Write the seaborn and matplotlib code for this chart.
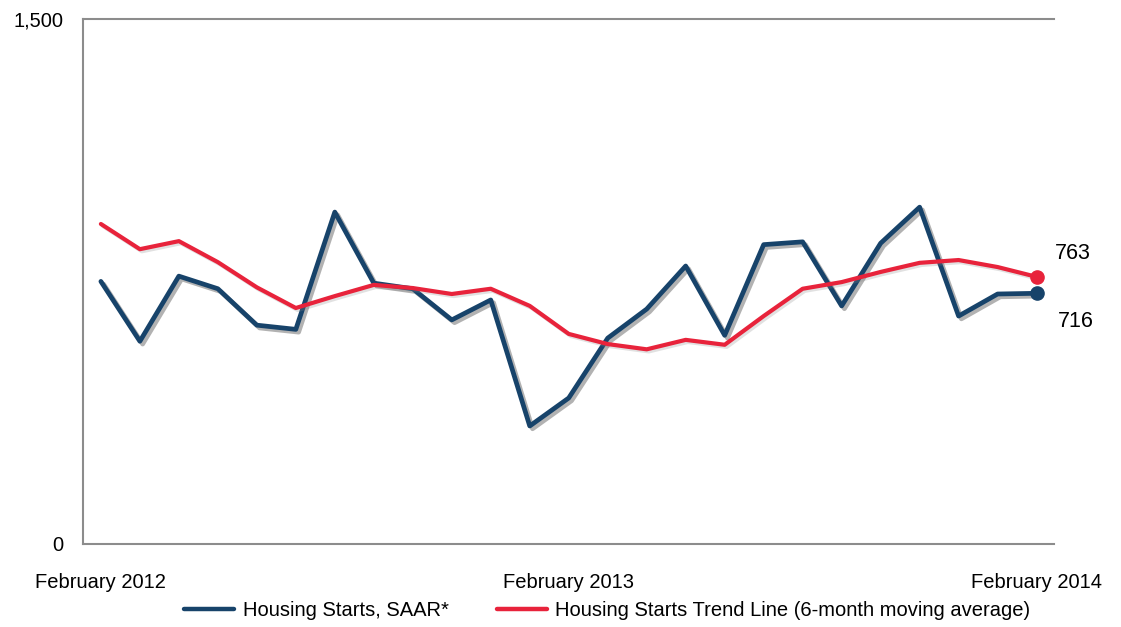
import pandas as pd
import matplotlib.pyplot as plt
import matplotlib.patheffects as pe
import seaborn as sns
import numpy as np

sns.set_style("white")
plt.rcParams['font.family'] = ['Liberation Sans', 'DejaVu Sans']
plt.rcParams['text.color'] = 'black'
plt.rcParams['xtick.color'] = 'black'
plt.rcParams['ytick.color'] = 'black'

# monthly housing starts, thousands (SAAR), Feb 2012 - Feb 2014
months = pd.date_range('2012-02-01', periods=25, freq='MS').strftime('%B %Y').tolist()
starts = [750, 579, 765, 729, 625, 613, 948, 745, 729, 640, 697, 337, 417,
          588, 671, 794, 596, 855, 863, 680, 859, 962, 651, 714, 716]
trend = [914, 842, 865, 805, 733, 674, 708, 740, 731, 714, 729, 680, 600,
         571, 556, 583, 569, 651, 729, 748, 777, 803, 811, 791, 763]
tick_months = ['February 2012', 'February 2013', 'February 2014']

blue = '#17436a'
red = '#e8233b'

df = pd.DataFrame({'month': months, 'idx': np.arange(len(months)),
                   'starts': starts, 'trend': trend})

fig = plt.figure(figsize=(11.21, 6.27), dpi=100)
ax = fig.add_axes([0.074, 0.1324, 0.866, 0.8376])

shadow = [pe.SimpleLineShadow(offset=(2, -2), shadow_color='#555555', alpha=0.45),
          pe.Normal()]

sns.lineplot(data=df, x='idx', y='starts', color=blue, lw=3.4, ax=ax,
             label='Housing Starts, SAAR*', path_effects=shadow)
sns.lineplot(data=df, x='idx', y='trend', color=red, lw=3.0, ax=ax,
             label='Housing Starts Trend Line (6-month moving average)',
             path_effects=[pe.SimpleLineShadow(offset=(1.5, -1.5), shadow_color='#888888', alpha=0.25),
                           pe.Normal()])

# end markers + labels
last = df.iloc[-1]
ax.plot(last['idx'], last['starts'], 'o', color=blue, ms=9.5, zorder=5)
ax.plot(last['idx'], last['trend'], 'o', color=red, ms=9.5, zorder=5)
ax.annotate(f"{int(last['trend'])}", (last['idx'], last['trend']),
            xytext=(13, 17), textcoords='offset points', fontsize=15.5, ha='left', va='center')
ax.annotate(f"{int(last['starts'])}", (last['idx'], last['starts']),
            xytext=(15, -20), textcoords='offset points', fontsize=15.5, ha='left', va='center')

ax.set_xlim(-0.46, 24.44)
ax.set_ylim(0, 1500)
ax.set_yticks([0, 1500])
ax.set_yticklabels(['0', '1,500'], fontsize=14.5)
ax.set_xticks([months.index(m) for m in tick_months])
ax.set_xticklabels(tick_months, fontsize=14.5)
ax.tick_params(axis='x', length=0, pad=21)
ax.tick_params(axis='y', length=6, color='#8c8c8c', width=1.2, pad=8)
ax.set_xlabel('')
ax.set_ylabel('')

for s in ['left', 'bottom', 'top']:
    ax.spines[s].set_color('#8c8c8c')
    ax.spines[s].set_linewidth(1.5)
ax.spines['right'].set_visible(False)

leg = ax.legend(loc='upper center', bbox_to_anchor=(0.54, -0.075), ncol=2, frameon=False,
                fontsize=14.5, handlelength=2.5, columnspacing=2.4, handletextpad=0.4)
for h in leg.get_lines():
    h.set_linewidth(3.2)
    h.set_path_effects([])

fig.savefig('out.png', dpi=100)
